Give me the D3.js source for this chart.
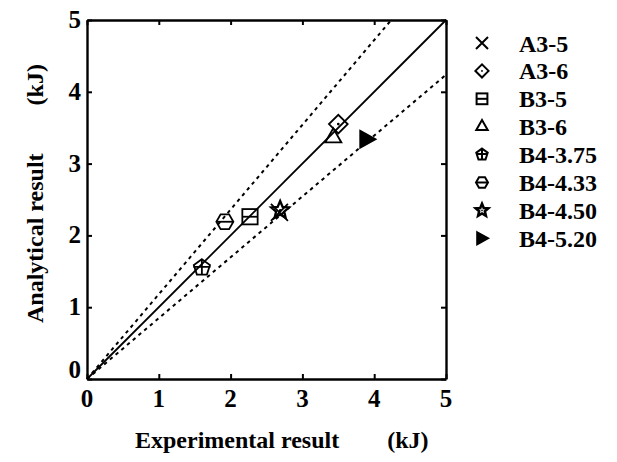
<!DOCTYPE html>
<html>
<head>
<meta charset="utf-8">
<script src="https://cdn.jsdelivr.net/npm/d3@7"></script>
<style>
  html, body { margin: 0; padding: 0; background: #fff; }
  svg text { font-family: "Liberation Serif", "Times New Roman", serif; font-weight: 700; fill: #000; }
</style>
</head>
<body>
<svg id="chart" width="617" height="462"></svg>
<script>
// Specimen names, experimental energy (kJ) and analytical energy (kJ)
const specimens = ["A3-5", "A3-6", "B3-5", "B3-6", "B4-3.75", "B4-4.33", "B4-4.50", "B4-5.20"];
const experimental = [2.68, 3.50, 2.27, 3.43, 1.60, 1.92, 2.69, 3.90];
const analytical   = [2.32, 3.55, 2.26, 3.36, 1.55, 2.19, 2.35, 3.34];
const markerTypes  = ["cross", "diamond", "boxbar", "triangle", "circleplus", "circlebar", "star", "play"];

const axisTicks = [0, 1, 2, 3, 4, 5];
const boundFactor = 1.18;   // scatter band around the 1:1 line

const svg = d3.select("#chart");
const margin = { left: 87, top: 20, right: 446, bottom: 379 };
const x = d3.scaleLinear().domain([0, 5]).range([margin.left, margin.right]);
const y = d3.scaleLinear().domain([0, 5]).range([margin.bottom, margin.top]);

// Reference lines: 1:1 solid, upper/lower bounds dashed
const lineGen = d3.line().x(d => x(d[0])).y(d => y(d[1]));
svg.append("path")
  .attr("d", lineGen([[0, 0], [5, 5]]))
  .attr("stroke", "#000").attr("stroke-width", 1.8).attr("fill", "none");
svg.append("path")
  .attr("d", lineGen([[0, 0], [5 / boundFactor, 5]]))
  .attr("stroke", "#000").attr("stroke-width", 2).attr("stroke-dasharray", "3.5,4").attr("fill", "none");
svg.append("path")
  .attr("d", lineGen([[0, 0], [5, 5 / boundFactor]]))
  .attr("stroke", "#000").attr("stroke-width", 2).attr("stroke-dasharray", "3.5,4").attr("fill", "none");

// Frame axes with inward ticks on all four sides
const tickLen = 5;
svg.append("g").attr("transform", `translate(0,${margin.bottom})`)
  .call(d3.axisBottom(x).tickValues(axisTicks).tickSizeInner(-tickLen).tickSizeOuter(0).tickFormat(""));
svg.append("g").attr("transform", `translate(0,${margin.top})`)
  .call(d3.axisTop(x).tickValues(axisTicks).tickSizeInner(-tickLen).tickSizeOuter(0).tickFormat(""));
svg.append("g").attr("transform", `translate(${margin.left},0)`)
  .call(d3.axisLeft(y).tickValues(axisTicks).tickSizeInner(-tickLen).tickSizeOuter(0).tickFormat(""));
svg.append("g").attr("transform", `translate(${margin.right},0)`)
  .call(d3.axisRight(y).tickValues(axisTicks).tickSizeInner(-tickLen).tickSizeOuter(0).tickFormat(""));
svg.selectAll(".domain").attr("stroke", "#000").attr("stroke-width", 2.4);
svg.selectAll(".tick line").attr("stroke", "#000").attr("stroke-width", 2);

const bold = sel => sel.attr("font-family", "Liberation Serif, Times New Roman, serif").attr("font-weight", "bold");

// Tick labels
svg.append("g").selectAll("text").data(axisTicks).join("text")
  .attr("x", d => x(d)).attr("y", 407)
  .attr("text-anchor", "middle").attr("font-size", 25).call(bold).text(d => d);
svg.append("g").selectAll("text").data(axisTicks).join("text")
  .attr("x", 81).attr("y", d => d === 0 ? y(d) - 1 : y(d) + 8)
  .attr("text-anchor", "end").attr("font-size", 25).call(bold).text(d => d);

// Axis titles
svg.append("text").attr("x", 135).attr("y", 448).attr("font-size", 24).call(bold)
  .style("white-space", "pre")
  .text("Experimental result        (kJ)");
svg.append("text").attr("transform", "translate(43,323) rotate(-90)").attr("font-size", 24).call(bold)
  .style("white-space", "pre")
  .text("Analytical result        (kJ)");

// Marker drawing
function drawMarker(g, type, s, sw) {
  const h = s / 2;
  const stroke = { stroke: "#000", "stroke-width": sw, fill: "none" };
  const add = (tag, attrs) => {
    const el = g.append(tag);
    Object.entries(Object.assign({}, stroke, attrs)).forEach(([k, v]) => el.attr(k, v));
    return el;
  };
  const poly = (n, r, rot) => d3.range(n).map(i => {
    const a = rot + i * 2 * Math.PI / n;
    return [r * Math.cos(a), r * Math.sin(a)];
  });
  switch (type) {
    case "cross":
      add("path", { d: `M${-h},${-h}L${h},${h}M${-h},${h}L${h},${-h}` });
      break;
    case "diamond":
      add("path", { d: d3.line()(poly(4, h * 1.1, 0)) + "Z" });
      add("circle", { r: s * 0.08, fill: "#000", stroke: "none" });
      break;
    case "boxbar":
      add("rect", { x: -h * 0.9, y: -h * 0.9, width: h * 1.8, height: h * 1.8 });
      add("path", { d: `M${-h * 0.9},0L${h * 0.9},0` });
      break;
    case "triangle":
      add("path", { d: d3.line()(poly(3, h * 1.1, -Math.PI / 2)) + "Z" });
      break;
    case "circleplus":
      add("path", { d: d3.line()(poly(5, h, -Math.PI / 2)) + "Z" });
      add("path", { d: `M${-h},${-h * 0.1}L${h},${-h * 0.1}M0,${-h}L0,${h * 0.8}` });
      break;
    case "circlebar":
      add("path", { d: d3.line()(poly(6, h, 0)) + "Z" });
      add("path", { d: `M${-h},0L${h},0` });
      break;
    case "star": {
      const pts = d3.range(10).map(i => {
        const r = i % 2 === 0 ? h * 1.1 : h * 0.5;
        const a = -Math.PI / 2 + i * Math.PI / 5;
        return [r * Math.cos(a), r * Math.sin(a)];
      });
      add("path", { d: d3.line()(pts) + "Z", "stroke-width": sw * 1.3 });
      add("circle", { r: s * 0.07, fill: "#000", stroke: "none" });
      break;
    }
    case "play":
      add("path", { d: `M${-h * 0.8},${-h}L${h},0L${-h * 0.8},${h}Z`, fill: "#000" });
      break;
  }
}

// Data points
const points = specimens.map((name, i) => ({ name, ex: experimental[i], an: analytical[i], type: markerTypes[i] }));
svg.append("g").selectAll("g").data(points).join("g")
  .attr("transform", d => `translate(${x(d.ex)},${y(d.an)})`)
  .each(function (d) { drawMarker(d3.select(this), d.type, 17, 1.8); });

// Legend
const legend = svg.append("g");
points.forEach((d, i) => {
  const cy = 43 + i * 27.9;
  const g = legend.append("g").attr("transform", `translate(482,${cy})`);
  drawMarker(g, d.type, 12, 2);
  legend.append("text").attr("x", 519).attr("y", cy + 8.5).attr("font-size", 24).call(bold).text(d.name);
});
</script>
</body>
</html>
